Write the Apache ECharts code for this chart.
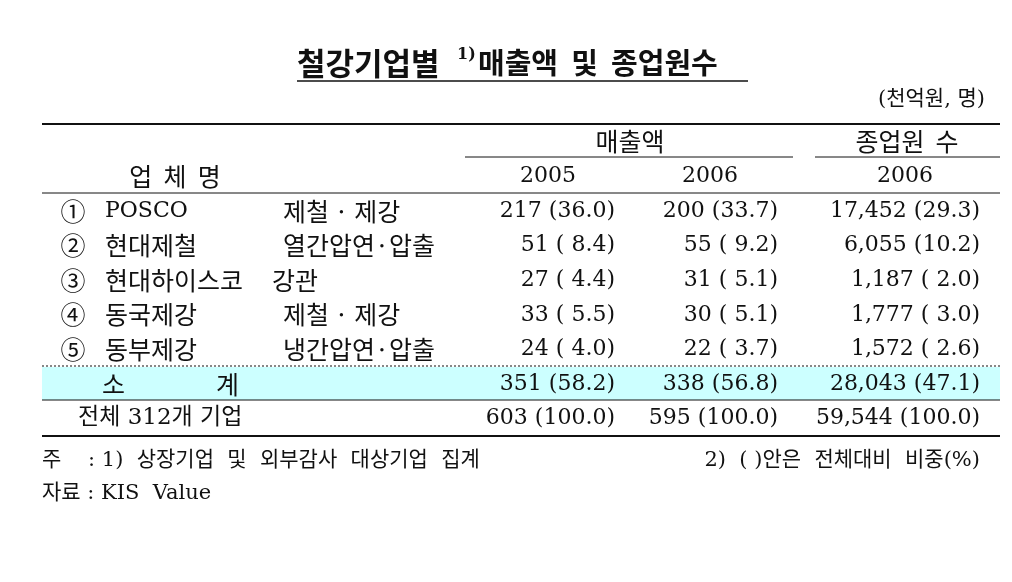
<!DOCTYPE html>
<html>
<head>
<meta charset="UTF-8">
<style>
*{margin:0;padding:0;}
html,body{width:1012px;height:582px;background:#fff;}
#main{width:1012px;height:582px;}
</style>
</head>
<body>
<div id="main"></div>
<script src="https://cdn.jsdelivr.net/npm/echarts@6/dist/echarts.min.js"></script>
<script>
var marks = ['①', '②', '③', '④', '⑤'];
var companies = ['POSCO', '현대제철', '현대하이스코', '동국제강', '동부제강'];
var products = ['제철 · 제강', '열간압연·압출', '강관', '제철 · 제강', '냉간압연·압출'];
var productX = [283, 283, 272, 283, 283];
var sales2005 = ['217 (36.0)', '51 ( 8.4)', '27 ( 4.4)', '33 ( 5.5)', '24 ( 4.0)'];
var sales2006 = ['200 (33.7)', '55 ( 9.2)', '31 ( 5.1)', '30 ( 5.1)', '22 ( 3.7)'];
var staff2006 = ['17,452 (29.3)', '6,055 (10.2)', '1,187 ( 2.0)', '1,777 ( 3.0)', '1,572 ( 2.6)'];
var subtotal = ['351 (58.2)', '338 (56.8)', '28,043 (47.1)'];
var total = ['603 (100.0)', '595 (100.0)', '59,544 (100.0)'];

var FN = '"DejaVu Serif", "Noto Sans CJK KR", serif';
var FK = '"Noto Sans CJK KR", sans-serif';
var C = '#111';
var g = [];
function txt(x, y, s, align, size, font, weight) {
  g.push({type: 'text', x: x, y: y, style: {text: s, fill: C, font: (weight || 'normal') + ' ' + (size || 22) + 'px ' + (font || FN), align: align || 'left', verticalAlign: 'middle'}});
}
function kor(x, y, s, align) { txt(x, y, s, align, 25, FK); }
function num(x, y, s, align) { txt(x, y, s, align, 22, FN); }
function line(x1, y1, x2, y2, w, dash) {
  g.push({type: 'line', shape: {x1: x1, y1: y1, x2: x2, y2: y2}, style: {stroke: C, lineWidth: w || 1, lineDash: dash || null}});
}
var colX = [615, 778, 980];

txt(297, 63, '철강기업별', 'left', 31, FK, 'bold');
txt(457, 55, '1)', 'left', 16, FN, 'bold');
txt(478, 63, '매출액  및  종업원수', 'left', 29, FK, 'bold');
line(297, 81, 748, 81, 1.5);
txt(985, 100, '(천억원, 명)', 'right', 21);

line(42, 124, 1000, 124, 2);
kor(630, 141, '매출액', 'center');
line(465, 157, 793, 157, 1);
kor(907, 141, '종업원  수', 'center');
line(815, 157, 1000, 157, 1);
kor(175, 176, '업  체  명', 'center');
num(548, 176, '2005', 'center');
num(710, 176, '2006', 'center');
num(905, 176, '2006', 'center');
line(42, 193, 1000, 193, 1);

g.push({type: 'rect', shape: {x: 42, y: 367, width: 958, height: 33}, style: {fill: '#ccffff'}, z: -1});

for (var i = 0; i < companies.length; i++) {
  var y = 211 + i * 34.6;
  kor(73, y, marks[i], 'center');
  if (i === 0) num(105, y, companies[i]); else kor(105, y, companies[i]);
  kor(productX[i], y, products[i]);
  num(colX[0], y, sales2005[i], 'right');
  num(colX[1], y, sales2006[i], 'right');
  num(colX[2], y, staff2006[i], 'right');
}
line(42, 366, 1000, 366, 1, [2, 2]);
kor(102, 384, '소');
kor(216, 384, '계');
for (var j = 0; j < 3; j++) num(colX[j], 384, subtotal[j], 'right');
line(42, 400, 1000, 400, 1);
txt(78, 418, '전체 312개 기업', 'left', 23);
for (var k = 0; k < 3; k++) num(colX[k], 418, total[k], 'right');
line(42, 436, 1000, 436, 2);

txt(42, 461, '주    : 1)  상장기업  및  외부감사  대상기업  집계', 'left', 21);
txt(980, 461, '2)  ( )안은  전체대비  비중(%)', 'right', 21);
txt(42, 494, '자료 : KIS  Value', 'left', 21);

var chart = echarts.init(document.getElementById('main'));
chart.setOption({animation: false, graphic: {elements: g}});
</script>
</body>
</html>
